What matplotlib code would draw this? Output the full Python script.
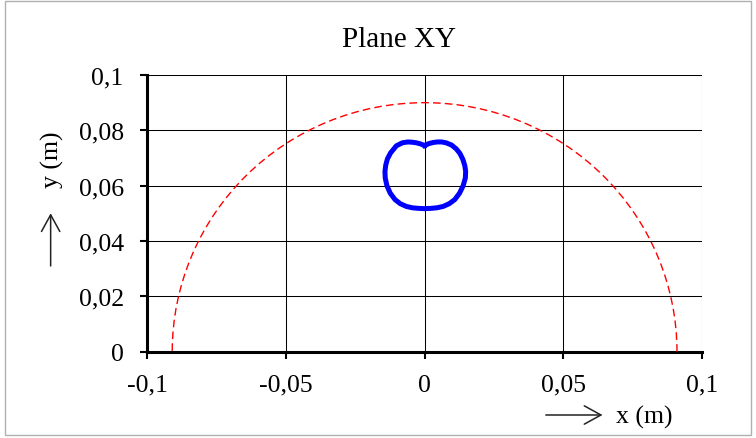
import matplotlib
matplotlib.use('Agg')
import matplotlib.pyplot as plt
from matplotlib.patches import Arc, Rectangle
from matplotlib.ticker import FuncFormatter

# trajectory in the XY plane
traj_x = [0.0, 0.0015, 0.0031, 0.0046, 0.0061, 0.0077, 0.0097, 0.0114, 0.0127, 0.0138,
          0.0145, 0.0148, 0.0147, 0.0139, 0.0126, 0.0109, 0.0089, 0.0067, 0.0044, 0.0022,
          0.0, -0.0022, -0.0044, -0.0066, -0.0088, -0.0107, -0.0124, -0.0136, -0.0142,
          -0.0143, -0.0140, -0.0134, -0.0123, -0.0102, -0.0080, -0.0060, -0.0045, -0.0030,
          -0.0015, 0.0]
traj_y = [0.0745, 0.0752, 0.0756, 0.0758, 0.0758, 0.0755, 0.0747, 0.0733, 0.0717, 0.0695,
          0.0672, 0.0652, 0.0628, 0.0600, 0.0573, 0.0550, 0.0535, 0.0525, 0.0520, 0.0518,
          0.0517, 0.0518, 0.0520, 0.0525, 0.0535, 0.0550, 0.0573, 0.0600, 0.0628,
          0.0652, 0.0675, 0.0697, 0.0718, 0.0744, 0.0755, 0.0758, 0.0757, 0.0755,
          0.0751, 0.0745]

# workspace boundary (semi-axes as drawn)
reach_x = 0.091
reach_y = 0.09

x_ticks = [-0.1, -0.05, 0, 0.05, 0.1]
y_ticks = [0, 0.02, 0.04, 0.06, 0.08, 0.1]

serif = ['Liberation Serif', 'DejaVu Serif']
plt.rcParams['font.family'] = serif

fig = plt.figure(figsize=(7.56, 4.39), dpi=100)
ax = fig.add_axes([0.1948, 0.1966, 0.7337, 0.6303])

fig.patches.append(Rectangle((0.006, 0.007), 0.987, 0.988, transform=fig.transFigure,
                             fill=False, edgecolor='#b0b0b0', linewidth=1))

ax.add_patch(Arc((0, 0), 2 * reach_x, 2 * reach_y, theta1=0, theta2=180,
                 color='red', linestyle=(0, (5.5, 3)), linewidth=1.0, zorder=3))
ax.plot(traj_x, traj_y, color='#0000ff', linewidth=3.6, zorder=4,
        solid_joinstyle='round')

ax.set_xlim(-0.1, 0.1)
ax.set_ylim(0, 0.1)
ax.set_xticks(x_ticks)
ax.set_yticks(y_ticks)

fmt = FuncFormatter(lambda v, p: ('%g' % round(v, 4)).replace('.', ','))
ax.xaxis.set_major_formatter(fmt)
ax.yaxis.set_major_formatter(fmt)
ax.tick_params(direction='out', length=5, width=1.5, labelsize=18.5, colors='black')
ax.tick_params(axis='y', pad=12)
ax.tick_params(axis='x', pad=11)

ax.grid(True, color='black', linewidth=0.75)
ax.set_axisbelow(True)
for side in ['top', 'right']:
    ax.spines[side].set_visible(False)
for side in ['left', 'bottom']:
    ax.spines[side].set_linewidth(2.2)

fig.text(0.528, 0.909, 'Plane XY', fontsize=21, ha='center', va='center')

# axis labels with long arrows
arrow = dict(arrowstyle='->,head_length=0.6,head_width=0.33', lw=1.1, color='#222222',
             shrinkA=0, shrinkB=0, mutation_scale=20)
fig.text(0.852, 0.050, 'x (m)', fontsize=18.5, ha='center', va='center')
ax.annotate('', xy=(0.797, 0.0524), xytext=(0.722, 0.0524),
            xycoords='figure fraction', textcoords='figure fraction', arrowprops=arrow)
fig.text(0.069, 0.6355, 'y (m)', fontsize=18.5, ha='center', va='center', rotation=90)
ax.annotate('', xy=(0.067, 0.512), xytext=(0.067, 0.392),
            xycoords='figure fraction', textcoords='figure fraction', arrowprops=arrow)

fig.savefig('out.png', dpi=100)
